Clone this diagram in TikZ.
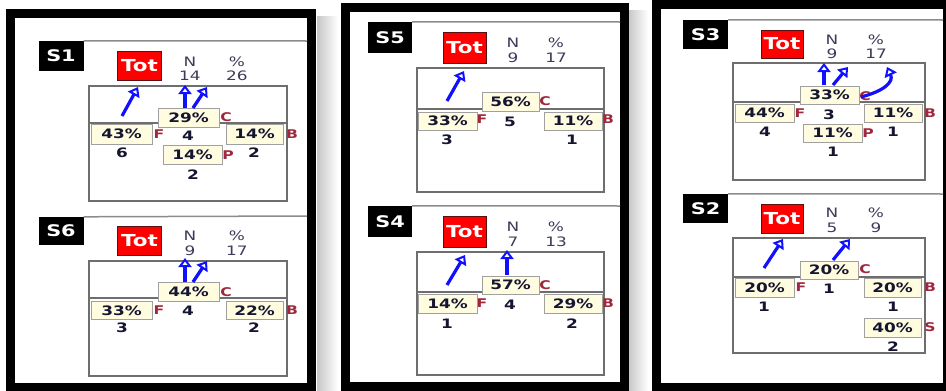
\documentclass[tikz,border=0pt]{standalone}
\usepackage{fontspec}
\usetikzlibrary{arrows.meta}
\newfontfamily\vf{DejaVu Sans}[FakeStretch=1.3]
\definecolor{sepc}{HTML}{8C8C8C}
\definecolor{boxc}{HTML}{6E6E6E}
\definecolor{hdrc}{HTML}{3C3C5A}
\definecolor{lblc}{HTML}{A0283C}
\definecolor{cntc}{HTML}{151530}
\definecolor{pctf}{HTML}{FFFCE0}
\definecolor{pctb}{HTML}{A0A0A0}
\definecolor{totb}{HTML}{5A1010}
\definecolor{arrc}{HTML}{1010FF}
\tikzset{
 frame/.style={line width=9pt, draw=black},
 sepline/.style={draw=sepc, line width=1.5pt},
 sbox/.style={fill=black, text=white, font=\vf\bfseries\fontsize{16}{16}\selectfont, inner sep=0pt, minimum width=45pt, minimum height=30pt},
 totbox/.style={fill=red, draw=totb, line width=1pt, text=white, font=\vf\bfseries\fontsize{16.5}{16}\selectfont, inner sep=0pt, minimum width=44pt, minimum height=29pt},
 hdr/.style={text=hdrc, font=\vf\fontsize{13}{13}\selectfont, inner sep=0pt},
 mainbox/.style={draw=boxc, line width=1.5pt},
 midline/.style={draw=boxc, line width=1.2pt},
 pct/.style={fill=pctf, draw=pctb, line width=1pt, font=\vf\bfseries\fontsize{13}{13}\selectfont, text=cntc, inner sep=0pt, minimum height=19pt, minimum width=#1},
 pct/.default=59pt,
 lbl/.style={text=lblc, font=\vf\bfseries\fontsize{12}{12}\selectfont, inner sep=0pt},
 cnt/.style={text=cntc, font=\vf\bfseries\fontsize{13}{13}\selectfont, inner sep=0pt},
 arr/.style={draw=arrc, line width=3.2pt, -{Triangle[open,length=9pt,width=13pt,line width=2pt]}},
}
\begin{document}
\begin{tikzpicture}[x=1pt,y=-1pt]
\path[use as bounding box, clip] (0,0) rectangle (946,391);
\fill[white] (0,0) rectangle (946,391);
% shadows
\shade[left color=gray!45, right color=white] (317,16) rectangle (338,391);
\shade[left color=gray!45, right color=white] (628,10) rectangle (648,391);
% frames
\draw[frame] (10.5,13) rectangle (311.5,387);
\draw[frame] (345.5,7.5) rectangle (624,386.5);
\draw[frame] (656.5,4) rectangle (947.5,387);

% ================= S1 =================
\node[sbox] (s1) at (61,56) {S1};
\draw[sepline] (s1.north east) -- (307,41);
\node[totbox] (s1tot) at (139.5,65.5) {Tot};
\node[hdr] (s1n) at (190,62) {N};
\node[hdr] (s1nv) at (190,76) {14};
\node[hdr] (s1p) at (237,62) {\%};
\node[hdr] (s1pv) at (237,76) {26};
\draw[mainbox] (89,86) rectangle (287,201);
\coordinate (s1l) at (89,123); \coordinate (s1r) at (287,123);
\draw[midline] (s1l) -- (s1r);
\node[pct=61pt] (s1c) at (188.5,117.5) {29\%};
\node[lbl] (s1cl) at (226,117) {C};
\node[cnt] (s1cn) at (188,136) {4};
\node[pct=61pt, minimum height=20pt] (s1f) at (121.5,134) {43\%};
\node[lbl] (s1fl) at (159,134) {F};
\node[cnt] (s1fn) at (122,153) {6};
\node[pct=57pt, minimum height=20pt] (s1b) at (254.5,134) {14\%};
\node[lbl] (s1bl) at (292,134) {B};
\node[cnt] (s1bn) at (254,153) {2};
\node[pct=59pt] (s1pp) at (192.5,154.5) {14\%};
\node[lbl] (s1pl) at (228,155) {P};
\node[cnt] (s1pn) at (193,175) {2};
\coordinate (s1a1s) at (122,116); \coordinate (s1a1e) at (138,87);
\coordinate (s1a2s) at (185,108); \coordinate (s1a2e) at (185,85);
\coordinate (s1a3s) at (193,108); \coordinate (s1a3e) at (207,87);
\draw[arr] (s1a1s) -- (s1a1e);
\draw[arr] (s1a2s) -- (s1a2e);
\draw[arr] (s1a3s) -- (s1a3e);

% ================= S6 =================
\node[sbox, minimum height=28pt] (s6) at (61,231) {S6};
\draw[sepline] (s6.north east) -- (307,216);
\node[totbox] (s6tot) at (139.5,240.5) {Tot};
\node[hdr] (s6n) at (190,236) {N};
\node[hdr] (s6nv) at (190,251) {9};
\node[hdr] (s6p) at (237,236) {\%};
\node[hdr] (s6pv) at (237,251) {17};
\draw[mainbox] (89,261) rectangle (287,376);
\coordinate (s6l) at (89,298); \coordinate (s6r) at (287,298);
\draw[midline] (s6l) -- (s6r);
\node[pct=61pt] (s6c) at (188.5,291.5) {44\%};
\node[lbl] (s6cl) at (226,292) {C};
\node[cnt] (s6cn) at (188,311) {4};
\node[pct=61pt, minimum height=18pt] (s6f) at (121.5,310.5) {33\%};
\node[lbl] (s6fl) at (159,310) {F};
\node[cnt] (s6fn) at (122,328) {3};
\node[pct=57pt, minimum height=18pt] (s6b) at (254.5,310.5) {22\%};
\node[lbl] (s6bl) at (292,310) {B};
\node[cnt] (s6bn) at (254,328) {2};
\coordinate (s6a1s) at (185,282); \coordinate (s6a1e) at (185,258);
\coordinate (s6a2s) at (193,282); \coordinate (s6a2e) at (207,261);
\draw[arr] (s6a1s) -- (s6a1e);
\draw[arr] (s6a2s) -- (s6a2e);

% ================= S5 =================
\node[sbox, minimum width=44pt, minimum height=31pt] (s5) at (390,37.5) {S5};
\draw[sepline] (s5.north east) -- (620,22);
\node[totbox, minimum width=43pt, minimum height=31pt] (s5tot) at (464.5,47.5) {Tot};
\node[hdr] (s5n) at (513,43) {N};
\node[hdr] (s5nv) at (513,58) {9};
\node[hdr] (s5p) at (556,43) {\%};
\node[hdr] (s5pv) at (556,58) {17};
\draw[mainbox] (417,68) rectangle (604,192);
\coordinate (s5l) at (417,109); \coordinate (s5r) at (604,109);
\draw[midline] (s5l) -- (s5r);
\node[pct=57pt] (s5c) at (510.5,101.5) {56\%};
\node[lbl] (s5cl) at (545,101) {C};
\node[cnt] (s5cn) at (510,122) {5};
\node[pct=59pt, minimum height=18pt] (s5f) at (447.5,121) {33\%};
\node[lbl] (s5fl) at (482,119) {F};
\node[cnt] (s5fn) at (447,140) {3};
\node[pct=58pt, minimum height=18pt] (s5b) at (573,121) {11\%};
\node[lbl] (s5bl) at (608,119) {B};
\node[cnt] (s5bn) at (572,140) {1};
\coordinate (s5a1s) at (447,101); \coordinate (s5a1e) at (464,71);
\draw[arr] (s5a1s) -- (s5a1e);

% ================= S4 =================
\node[sbox, minimum width=44pt, minimum height=31pt] (s4) at (390,221.5) {S4};
\draw[sepline] (s4.north east) -- (620,206);
\node[totbox, minimum width=43pt, minimum height=31pt] (s4tot) at (464.5,231.5) {Tot};
\node[hdr] (s4n) at (513,227) {N};
\node[hdr] (s4nv) at (513,242) {7};
\node[hdr] (s4p) at (556,227) {\%};
\node[hdr] (s4pv) at (556,242) {13};
\draw[mainbox] (417,252) rectangle (604,375);
\coordinate (s4l) at (417,292); \coordinate (s4r) at (604,292);
\draw[midline] (s4l) -- (s4r);
\node[pct=57pt, minimum height=18pt] (s4c) at (510.5,285) {57\%};
\node[lbl] (s4cl) at (545,285) {C};
\node[cnt] (s4cn) at (510,305) {4};
\node[pct=59pt] (s4f) at (447.5,303.5) {14\%};
\node[lbl] (s4fl) at (482,303) {F};
\node[cnt] (s4fn) at (447,324) {1};
\node[pct=58pt] (s4b) at (573,303.5) {29\%};
\node[lbl] (s4bl) at (608,303) {B};
\node[cnt] (s4bn) at (572,324) {2};
\coordinate (s4a1s) at (447,285); \coordinate (s4a1e) at (465,255);
\coordinate (s4a2s) at (507,275); \coordinate (s4a2e) at (507,250);
\draw[arr] (s4a1s) -- (s4a1e);
\draw[arr] (s4a2s) -- (s4a2e);

% ================= S3 =================
\node[sbox, minimum height=29pt] (s3) at (705.5,34.5) {S3};
\draw[sepline] (s3.north east) -- (943,20);
\node[totbox, minimum width=42pt, minimum height=28pt] (s3tot) at (782,44) {Tot};
\node[hdr] (s3n) at (832,40) {N};
\node[hdr] (s3nv) at (832,54) {9};
\node[hdr] (s3p) at (876,40) {\%};
\node[hdr] (s3pv) at (876,54) {17};
\draw[mainbox] (733,63) rectangle (925,180);
\coordinate (s3l) at (733,102); \coordinate (s3r) at (925,102);
\draw[midline] (s3l) -- (s3r);
\node[pct=59pt, minimum height=18pt] (s3c) at (829.5,95) {33\%};
\node[lbl] (s3cl) at (865,96) {C};
\node[cnt] (s3cn) at (829,115) {3};
\node[pct=59pt, minimum height=18pt] (s3f) at (764.5,113) {44\%};
\node[lbl] (s3fl) at (800,113) {F};
\node[cnt] (s3fn) at (765,132) {4};
\node[pct=58pt, minimum height=18pt] (s3b) at (893,113) {11\%};
\node[lbl] (s3bl) at (930,113) {B};
\node[cnt] (s3bn) at (893,132) {1};
\node[pct=59pt, minimum height=18pt] (s3pp) at (832.5,133) {11\%};
\node[lbl] (s3pl) at (868,133) {P};
\node[cnt] (s3pn) at (833,152) {1};
\coordinate (s3a1s) at (824,85); \coordinate (s3a1e) at (824,63);
\coordinate (s3a2s) at (833,85); \coordinate (s3a2e) at (848,67);
\coordinate (s3a3s) at (861,97); \coordinate (s3a3e) at (887,67);
\draw[arr] (s3a1s) -- (s3a1e);
\draw[arr] (s3a2s) -- (s3a2e);
\draw[arr] (s3a3s) .. controls (884,91) and (894,82) .. (s3a3e);

% ================= S2 =================
\node[sbox, minimum height=29pt] (s2) at (705.5,208.5) {S2};
\draw[sepline] (s2.north east) -- (943,194);
\node[totbox, minimum width=42pt] (s2tot) at (782,218.5) {Tot};
\node[hdr] (s2n) at (832,213) {N};
\node[hdr] (s2nv) at (832,228) {5};
\node[hdr] (s2p) at (876,213) {\%};
\node[hdr] (s2pv) at (876,228) {9};
\draw[mainbox] (733,238) rectangle (925,353);
\coordinate (s2l) at (733,277); \coordinate (s2r) at (925,277);
\draw[midline] (s2l) -- (s2r);
\node[pct=58pt, minimum height=18pt] (s2c) at (829,270) {20\%};
\node[lbl] (s2cl) at (865,269) {C};
\node[cnt] (s2cn) at (829,289) {1};
\node[pct=59pt] (s2f) at (764.5,287.5) {20\%};
\node[lbl] (s2fl) at (801,287) {F};
\node[cnt] (s2fn) at (764,307) {1};
\node[pct=57pt] (s2b) at (892.5,287.5) {20\%};
\node[lbl] (s2bl) at (930,287) {B};
\node[cnt] (s2bn) at (893,307) {1};
\node[pct=57pt] (s2s) at (892.5,327.5) {40\%};
\node[lbl] (s2sl) at (930,327) {S};
\node[cnt] (s2sn) at (893,347) {2};
\coordinate (s2a1s) at (764,268); \coordinate (s2a1e) at (783,239);
\coordinate (s2a2s) at (833,260); \coordinate (s2a2e) at (850,239);
\draw[arr] (s2a1s) -- (s2a1e);
\draw[arr] (s2a2s) -- (s2a2e);
\end{tikzpicture}
\end{document}
